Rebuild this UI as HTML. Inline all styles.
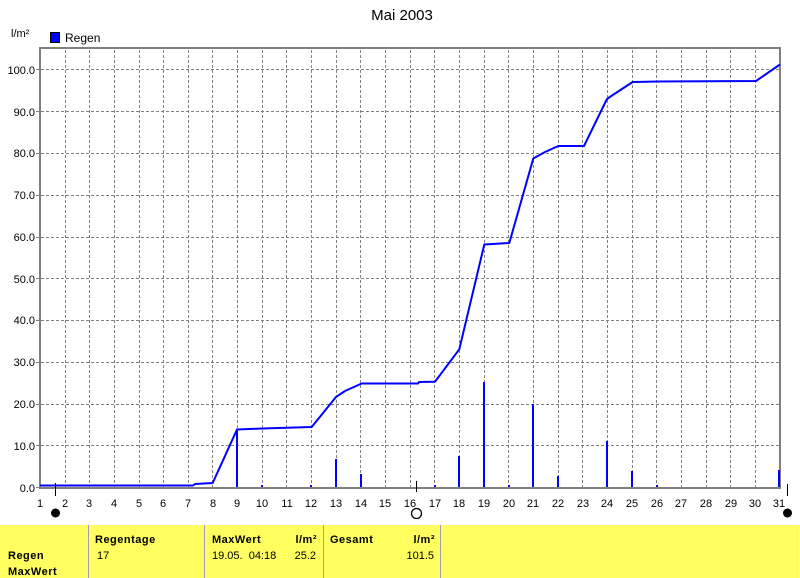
<!DOCTYPE html>
<html>
<head>
<meta charset="utf-8">
<style>
  html, body { margin:0; padding:0; background:#fff; }
  body { width:800px; height:578px; overflow:hidden; position:relative; }
  svg { position:absolute; left:0; top:0; }
  text { font-family:"Liberation Sans", Arial, sans-serif; fill:#000; }
  .t { font-size:11px; }
  .b { font-size:11px; font-weight:bold; letter-spacing:0.5px; }
</style>
</head>
<body>
<svg width="800" height="578" viewBox="0 0 800 578" xmlns="http://www.w3.org/2000/svg">
  <!-- title -->
  <text x="402" y="20" text-anchor="middle" style="font-size:15px">Mai 2003</text>
  <!-- unit label -->
  <text x="11" y="37" class="t">l/m²</text>
  <!-- legend -->
  <rect x="50.5" y="32.5" width="9" height="10" fill="#0000ff" stroke="#000" stroke-width="1"/>
  <text x="65" y="42" class="t" style="font-size:12px">Regen</text>

  <!-- grid -->
  <g stroke="#808080" stroke-width="1" stroke-dasharray="3,2" shape-rendering="crispEdges" fill="none">
    <path d="M41 445.5H779 M41 404.5H779 M41 362.5H779 M41 320.5H779 M41 278.5H779 M41 237.5H779 M41 195.5H779 M41 153.5H779 M41 111.5H779 M41 69.5H779"/>
    <path d="M65.5 50V487 M89.5 50V487 M114.5 50V487 M139.5 50V487 M163.5 50V487 M188.5 50V487 M212.5 50V487 M237.5 50V487 M262.5 50V487 M286.5 50V487 M311.5 50V487 M336.5 50V487 M360.5 50V487 M385.5 50V487 M410.5 50V487 M434.5 50V487 M459.5 50V487 M484.5 50V487 M508.5 50V487 M533.5 50V487 M558.5 50V487 M582.5 50V487 M607.5 50V487 M632.5 50V487 M656.5 50V487 M681.5 50V487 M706.5 50V487 M730.5 50V487 M755.5 50V487"/>
  </g>

  <!-- frame / axes -->
  <g stroke="#808080" stroke-width="2" fill="none" shape-rendering="crispEdges">
    <path d="M40 47V489 M39 48H781 M780 47V489 M39 488H781"/>
  </g>
  <!-- y ticks -->
  <g stroke="#808080" stroke-width="1" shape-rendering="crispEdges">
    <path d="M36 445.5H40 M36 404.5H40 M36 362.5H40 M36 320.5H40 M36 278.5H40 M36 237.5H40 M36 195.5H40 M36 153.5H40 M36 111.5H40 M36 69.5H40 M36 487.5H40"/>
  </g>

  <!-- y labels -->
  <g class="t" text-anchor="end">
    <text x="35" y="492" class="t">0.0</text>
    <text x="35" y="450" class="t">10.0</text>
    <text x="35" y="408" class="t">20.0</text>
    <text x="35" y="366" class="t">30.0</text>
    <text x="35" y="324" class="t">40.0</text>
    <text x="35" y="283" class="t">50.0</text>
    <text x="35" y="241" class="t">60.0</text>
    <text x="35" y="199" class="t">70.0</text>
    <text x="35" y="157" class="t">80.0</text>
    <text x="35" y="116" class="t">90.0</text>
    <text x="35" y="74" class="t">100.0</text>
  </g>

  <!-- x labels -->
  <g text-anchor="middle">
    <text x="40" y="507" class="t">1</text>
    <text x="65" y="507" class="t">2</text>
    <text x="89" y="507" class="t">3</text>
    <text x="114" y="507" class="t">4</text>
    <text x="139" y="507" class="t">5</text>
    <text x="163" y="507" class="t">6</text>
    <text x="188" y="507" class="t">7</text>
    <text x="213" y="507" class="t">8</text>
    <text x="237" y="507" class="t">9</text>
    <text x="262" y="507" class="t">10</text>
    <text x="287" y="507" class="t">11</text>
    <text x="311" y="507" class="t">12</text>
    <text x="336" y="507" class="t">13</text>
    <text x="361" y="507" class="t">14</text>
    <text x="385" y="507" class="t">15</text>
    <text x="410" y="507" class="t">16</text>
    <text x="435" y="507" class="t">17</text>
    <text x="459" y="507" class="t">18</text>
    <text x="484" y="507" class="t">19</text>
    <text x="509" y="507" class="t">20</text>
    <text x="533" y="507" class="t">21</text>
    <text x="558" y="507" class="t">22</text>
    <text x="583" y="507" class="t">23</text>
    <text x="607" y="507" class="t">24</text>
    <text x="632" y="507" class="t">25</text>
    <text x="657" y="507" class="t">26</text>
    <text x="681" y="507" class="t">27</text>
    <text x="706" y="507" class="t">28</text>
    <text x="731" y="507" class="t">29</text>
    <text x="755" y="507" class="t">30</text>
    <text x="779" y="507" class="t">31</text>
  </g>

  <!-- moon phase markers -->
  <g stroke="#000" stroke-width="1" shape-rendering="crispEdges">
    <path d="M55.5 483V496 M416.5 481V492 M787.5 484V496"/>
  </g>
  <circle cx="55.5" cy="513" r="4.5" fill="#000"/>
  <circle cx="416.5" cy="513.5" r="5" fill="none" stroke="#000" stroke-width="1.3"/>
  <circle cx="787.5" cy="513" r="4.5" fill="#000"/>

  <!-- daily bars -->
  <g fill="#0000ff" shape-rendering="crispEdges">
    <rect x="236" y="431" width="2" height="56"/>
    <rect x="261" y="485" width="2" height="2"/>
    <rect x="310" y="485" width="2" height="2"/>
    <rect x="335" y="459" width="2" height="28"/>
    <rect x="360" y="474" width="2" height="13"/>
    <rect x="434" y="485" width="2" height="2"/>
    <rect x="458" y="456" width="2" height="31"/>
    <rect x="483" y="382" width="2" height="105"/>
    <rect x="508" y="485" width="2" height="2"/>
    <rect x="532" y="404" width="2" height="83"/>
    <rect x="557" y="476" width="2" height="11"/>
    <rect x="606" y="441" width="2" height="46"/>
    <rect x="631" y="471" width="2" height="16"/>
    <rect x="656" y="485" width="2" height="2"/>
    <rect x="778" y="470" width="2" height="17"/>
  </g>

  <!-- cumulative line -->
  <polyline fill="none" stroke="#0000ff" stroke-width="2" stroke-linejoin="round"
    points="40,485.5 193,485.5 195,484 212.7,483 237,429.5 262,428.5 311.7,427 336,397 345,391 361.7,383.5 418,383.5 419,382 435,381.7 459.3,349.3 484.3,244.5 509.3,243 533.3,158.5 545,152 558.3,146 584,146 606.7,99.5 609,97.5 632.7,82 657.3,81.5 756,81 780,64.5"/>

  <!-- bottom table -->
  <rect x="0" y="525" width="799" height="53" fill="#ffff60"/>
  <g stroke="#a0a0b4" stroke-width="1" shape-rendering="crispEdges">
    <path d="M88.5 525V578 M204.5 525V578 M323.5 525V578 M440.5 525V578"/>
  </g>
  <text x="8" y="559" class="b">Regen</text>
  <text x="8" y="575" class="b">MaxWert</text>
  <text x="95" y="543" class="b">Regentage</text>
  <text x="97" y="559" class="t">17</text>
  <text x="212" y="543" class="b">MaxWert</text>
  <text x="317" y="543" class="b" text-anchor="end">l/m²</text>
  <text x="212" y="559" class="t" xml:space="preserve">19.05.  04:18</text>
  <text x="316" y="559" class="t" text-anchor="end">25.2</text>
  <text x="330" y="543" class="b">Gesamt</text>
  <text x="435" y="543" class="b" text-anchor="end">l/m²</text>
  <text x="434" y="559" class="t" text-anchor="end">101.5</text>
</svg>
</body>
</html>
